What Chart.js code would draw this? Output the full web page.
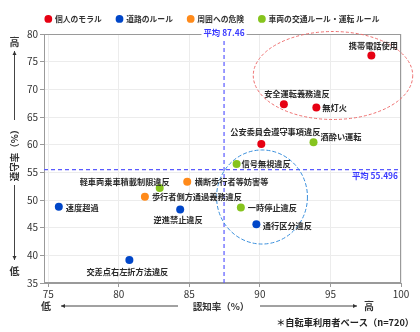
<!DOCTYPE html>
<html><head><meta charset="utf-8">
<script src="https://cdn.jsdelivr.net/npm/chart.js@4/dist/chart.umd.min.js"></script>
<style>html,body{margin:0;padding:0;background:#fff;}#wrap{width:420px;height:332px;position:relative;}</style>
</head><body>
<div id="wrap"><canvas id="c" width="420" height="332"></canvas></div>
<script>
// ---- data ----
const groupNames = ['個人のモラル', '道路のルール', '周囲への危険', '車両の交通ルール・運転 ルール'];
const items = ['携帯電話使用', '安全運転義務違反', '無灯火', '公安委員会遵守事項違反',
  '速度超過', '逆進禁止違反', '交差点右左折方法違反', '通行区分違反',
  '横断歩行者等妨害等', '歩行者側方通過義務違反',
  '酒酔い運転', '信号無視違反', '軽車両乗車積載制限違反', '一時停止違反'];
const itemGroup = [0, 0, 0, 0, 1, 1, 1, 1, 2, 2, 3, 3, 3, 3];
const recognitionRate = [97.9, 91.7, 94.0, 90.1, 75.75, 84.35, 80.75, 89.75, 84.85, 81.85, 93.8, 88.35, 82.9, 88.65];
const complianceRate = [76.1, 67.3, 66.7, 60.1, 48.8, 48.3, 39.15, 45.6, 53.3, 50.6, 60.45, 56.5, 52.15, 48.65];
const xTicks = [75, 80, 85, 90, 95, 100];
const yTicks = [35, 40, 45, 50, 55, 60, 65, 70, 75, 80];
const avgRecognition = 87.46;
const avgCompliance = 55.496;
const footnote = '＊自転車利用者ベース（n=720）';

// ---- styles ----
const groupColors = ['#e60012', '#0046c8', '#ff8a1a', '#86c41e'];
const FONT = '"Noto Sans CJK JP", "Noto Sans", sans-serif';
// label placement: [textAlign, dx, dy]
const labelPlacement = {
  '携帯電話使用': ['center', 2, -10],
  '安全運転義務違反': ['center', 13, -10],
  '無灯火': ['left', 6, 0],
  '公安委員会遵守事項違反': ['center', 14, -12.5],
  '酒酔い運転': ['left', 7, -5],
  '信号無視違反': ['left', 5, 0],
  '軽車両乗車積載制限違反': ['right', 10, -6.5],
  '横断歩行者等妨害等': ['left', 7.5, 0],
  '歩行者側方通過義務違反': ['left', 7, 0],
  '速度超過': ['left', 7, 1],
  '逆進禁止違反': ['center', -2, 10.5],
  '交差点右左折方法違反': ['center', -2, 11.5],
  '一時停止違反': ['left', 7, 0.5],
  '通行区分違反': ['left', 6.5, 2]
};
const ellipses = [
  { cx: 95.18, cy: 72.5, rx: 5.65, ry: 7.95, color: '#ee6f6f', dash: [3, 2] },
  { cx: 90.15, cy: 50.54, rx: 3.22, ry: 8.5, color: '#3a8fdc', dash: [4, 2] }
];

const datasets = groupNames.map((g, gi) => ({
  label: g,
  data: items.map((n, i) => ({ x: recognitionRate[i], y: complianceRate[i], name: n }))
             .filter((d, i) => itemGroup[i] === gi),
  backgroundColor: groupColors[gi],
  borderColor: groupColors[gi],
  pointRadius: 4,
  pointHoverRadius: 4,
  borderWidth: 0
}));

const legendTweak = {
  id: 'legendTweak',
  beforeInit(chart) {
    const fit = chart.legend.fit;
    chart.legend.fit = function () { fit.bind(chart.legend)(); this.height = 34; };
  },
  afterLayout(chart) {
    chart.legend.left += 12;
    chart.legend.right += 12;
  }
};

const decor = {
  id: 'decor',
  beforeDatasetsDraw(chart) {
    const { ctx, chartArea: a, scales: { x, y } } = chart;
    ctx.save();
    ctx.strokeStyle = '#9a9a9a'; ctx.lineWidth = 1;
    ctx.strokeRect(a.left + 0.5, a.top + 0.5, a.right - a.left - 1, a.bottom - a.top - 1);
    ctx.strokeStyle = '#5a5aff'; ctx.lineWidth = 1.2; ctx.setLineDash([4, 3]);
    const ax = x.getPixelForValue(avgRecognition);
    const ay = y.getPixelForValue(avgCompliance);
    ctx.beginPath(); ctx.moveTo(ax, a.top); ctx.lineTo(ax, a.bottom); ctx.stroke();
    ctx.beginPath(); ctx.moveTo(a.left, ay); ctx.lineTo(a.right, ay); ctx.stroke();
    ellipses.forEach(e => {
      const cx = x.getPixelForValue(e.cx), cy = y.getPixelForValue(e.cy);
      const rx = Math.abs(x.getPixelForValue(e.cx + e.rx) - cx);
      const ry = Math.abs(y.getPixelForValue(e.cy + e.ry) - cy);
      ctx.strokeStyle = e.color; ctx.lineWidth = 1; ctx.setLineDash(e.dash);
      ctx.beginPath(); ctx.ellipse(cx, cy, rx, ry, 0, 0, Math.PI * 2); ctx.stroke();
    });
    ctx.setLineDash([]);
    ctx.font = 'bold 8.4px ' + FONT;
    ctx.textBaseline = 'middle';
    const t1 = '平均 ' + avgRecognition;
    const w1 = ctx.measureText(t1).width;
    ctx.fillStyle = '#fff'; ctx.fillRect(ax - w1 / 2 - 2, a.top - 5, w1 + 4, 10);
    ctx.fillStyle = '#3b3bff'; ctx.textAlign = 'center';
    ctx.fillText(t1, ax, a.top - 1.5);
    const t2 = '平均 ' + avgCompliance;
    ctx.textAlign = 'right';
    ctx.fillText(t2, a.right - 3, ay + 6.5);
    ctx.restore();
  },
  afterDatasetsDraw(chart) {
    const { ctx } = chart;
    ctx.save();
    ctx.font = 'bold 8.2px ' + FONT;
    ctx.fillStyle = '#2a2a2a';
    ctx.textBaseline = 'middle';
    chart.data.datasets.forEach((ds, di) => {
      const meta = chart.getDatasetMeta(di);
      ds.data.forEach((d, j) => {
        const el = meta.data[j];
        const p = labelPlacement[d.name] || ['left', 6, 0];
        ctx.textAlign = p[0];
        ctx.fillText(d.name, el.x + p[1], el.y + p[2]);
      });
    });
    ctx.restore();
  },
  afterDraw(chart) {
    const { ctx } = chart;
    ctx.save();
    ctx.fillStyle = '#333'; ctx.strokeStyle = '#444'; ctx.lineWidth = 1;
    ctx.textBaseline = 'middle'; ctx.textAlign = 'center';
    ctx.font = 'bold 10px ' + FONT;
    const arrow = (x1, y1, x2, y2) => {
      ctx.beginPath(); ctx.moveTo(x1, y1); ctx.lineTo(x2, y2); ctx.stroke();
      const ang = Math.atan2(y2 - y1, x2 - x1);
      ctx.beginPath();
      ctx.moveTo(x2, y2);
      ctx.lineTo(x2 - 4 * Math.cos(ang) + 2 * Math.sin(ang), y2 - 4 * Math.sin(ang) - 2 * Math.cos(ang));
      ctx.lineTo(x2 - 4 * Math.cos(ang) - 2 * Math.sin(ang), y2 - 4 * Math.sin(ang) + 2 * Math.cos(ang));
      ctx.closePath(); ctx.fill();
    };
    const yx = 14.5;
    ctx.fillText('高', yx, 42);
    arrow(yx, 120, yx, 51);
    ctx.save();
    ctx.translate(yx, 153); ctx.rotate(-Math.PI / 2);
    ctx.font = 'bold 9.5px ' + FONT;
    ctx.fillText('遵守率（%）', 0, 0);
    ctx.restore();
    arrow(yx, 185, yx, 260);
    ctx.fillText('低', yx, 271);
    const xy = 306;
    ctx.fillText('低', 46, xy);
    arrow(178, xy, 61, xy);
    ctx.font = 'bold 9.5px ' + FONT;
    ctx.fillText('認知率（%）', 221, xy);
    arrow(260, xy, 357, xy);
    ctx.font = 'bold 10px ' + FONT;
    ctx.fillText('高', 369, xy);
    ctx.font = 'bold 9.2px ' + FONT;
    ctx.textAlign = 'right'; ctx.fillStyle = '#222';
    ctx.fillText(footnote, 414, 323);
    ctx.restore();
  }
};

new Chart(document.getElementById('c'), {
  type: 'scatter',
  data: { datasets },
  options: {
    responsive: false,
    animation: false,
    devicePixelRatio: 1,
    layout: { padding: { left: 0, right: 19, top: 0, bottom: 0 } },
    plugins: {
      legend: {
        position: 'top',
        labels: {
          usePointStyle: true, pointStyle: 'circle',
          boxWidth: 5.5, boxHeight: 5.5,
          padding: 15,
          color: '#333',
          font: { family: FONT, size: 7.8, weight: 'bold' }
        }
      },
      tooltip: { enabled: false }
    },
    scales: {
      x: {
        type: 'linear', min: 74.7, max: 100,
        afterBuildTicks: s => { s.ticks = xTicks.map(v => ({ value: v })); },
        afterFit: s => { s.height = 49; },
        grid: { color: '#ececec', tickColor: '#999', tickLength: 4, drawTicks: true },
        border: { color: '#9a9a9a' },
        ticks: { padding: 1, color: '#333', font: { family: FONT, size: 10 }, maxRotation: 0 }
      },
      y: {
        type: 'linear', min: 35, max: 80,
        afterBuildTicks: s => { s.ticks = yTicks.map(v => ({ value: v })); },
        afterFit: s => { s.width = 44; },
        grid: { color: '#ececec', tickColor: '#999', tickLength: 4 },
        border: { color: '#9a9a9a' },
        ticks: { padding: 2, color: '#333', font: { family: FONT, size: 10 } }
      }
    }
  },
  plugins: [legendTweak, decor]
});
</script>
</body></html>
